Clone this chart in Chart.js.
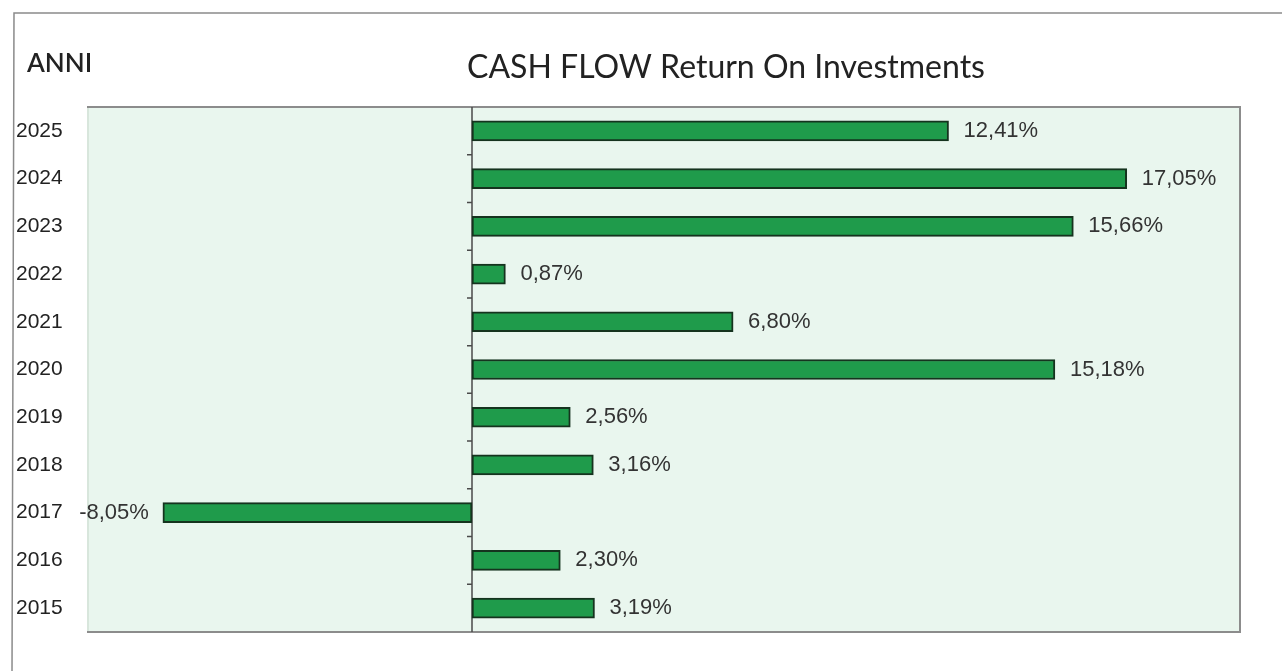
<!DOCTYPE html>
<html>
<head>
<meta charset="utf-8">
<script src="https://cdn.jsdelivr.net/npm/chart.js@4.4.1/dist/chart.umd.min.js"></script>
<style>
  html, body { margin: 0; padding: 0; background: #fff; }
  #wrap { width: 1286px; height: 671px; position: relative; }
</style>
</head>
<body>
<div id="wrap"><canvas id="roiChart"></canvas></div>
<script>
// data
const anni = ['2025', '2024', '2023', '2022', '2021', '2020', '2019', '2018', '2017', '2016', '2015'];
const roiValues = [12.41, 17.05, 15.66, 0.87, 6.80, 15.18, 2.56, 3.16, -8.05, 2.30, 3.19];
const chartTitle = 'CASH FLOW Return On Investments';
const axisTitle = 'ANNI';

const fmt = v => v.toFixed(2).replace('.', ',') + '%';

// frame, plot background, zero line, titles
const decorations = {
  id: 'decorations',
  beforeDraw(chart) {
    const { ctx, chartArea: a } = chart;
    ctx.save();
    // outer frame (top and left edge of the scanned box)
    ctx.strokeStyle = '#8a8a8a';
    ctx.lineWidth = 1.5;
    ctx.beginPath();
    ctx.moveTo(1282, 13);
    ctx.lineTo(14, 13);
    ctx.lineTo(12, 671);
    ctx.stroke();
    // plot area
    ctx.fillStyle = '#e9f6ee';
    ctx.fillRect(a.left, a.top, a.right - a.left, a.bottom - a.top);
    ctx.strokeStyle = '#8c8c8c';
    ctx.lineWidth = 2;
    ctx.strokeRect(a.left, a.top, a.right - a.left, a.bottom - a.top);
    ctx.strokeStyle = '#d8e6dc';
    ctx.beginPath();
    ctx.moveTo(a.left, a.top + 1);
    ctx.lineTo(a.left, a.bottom - 1);
    ctx.stroke();
    // titles
    ctx.fillStyle = '#222';
    ctx.textBaseline = 'alphabetic';
    ctx.font = '32px Lato, "Open Sans", sans-serif';
    ctx.textAlign = 'center';
    ctx.fillText(chartTitle, 726, 78);
    ctx.font = '600 26px Lato, "Open Sans", sans-serif';
    ctx.textAlign = 'left';
    ctx.fillText(axisTitle, 27, 72);
    ctx.restore();
  },
  beforeDatasetsDraw(chart) {
    const { ctx, chartArea: a, scales } = chart;
    const x0 = scales.x.getPixelForValue(0);
    ctx.save();
    ctx.strokeStyle = '#4a4a4a';
    ctx.lineWidth = 1.5;
    ctx.beginPath();
    ctx.moveTo(x0, a.top);
    ctx.lineTo(x0, a.bottom);
    // small tick marks between the categories
    const y = scales.y;
    for (let i = 1; i < anni.length; i++) {
      const ty = (y.getPixelForValue(i - 1) + y.getPixelForValue(i)) / 2;
      ctx.moveTo(x0 - 5, ty);
      ctx.lineTo(x0, ty);
    }
    ctx.stroke();
    ctx.restore();
  }
};

// value labels at the end of each bar
const valueLabels = {
  id: 'valueLabels',
  afterDatasetsDraw(chart) {
    const { ctx } = chart;
    const meta = chart.getDatasetMeta(0);
    ctx.save();
    ctx.font = '22px "Liberation Sans", Arial, sans-serif';
    ctx.fillStyle = '#333';
    ctx.textBaseline = 'middle';
    meta.data.forEach((bar, i) => {
      const v = roiValues[i];
      if (v >= 0) {
        ctx.textAlign = 'left';
        ctx.fillText(fmt(v), bar.x + 15, bar.y);
      } else {
        ctx.textAlign = 'right';
        ctx.fillText(fmt(v), bar.x - 14, bar.y);
      }
    });
    ctx.restore();
  }
};

new Chart(document.getElementById('roiChart'), {
  type: 'bar',
  data: {
    labels: anni,
    datasets: [{
      data: roiValues,
      backgroundColor: '#1f9b4b',
      borderColor: '#15331e',
      borderWidth: 2,
      borderSkipped: false,
      barThickness: 20
    }]
  },
  options: {
    indexAxis: 'y',
    responsive: true,
    maintainAspectRatio: false,
    animation: false,
    layout: { padding: { left: 16, right: 46, top: 107, bottom: 39 } },
    plugins: {
      legend: { display: false },
      tooltip: { enabled: false }
    },
    scales: {
      x: {
        display: false,
        min: -10,
        max: 20
      },
      y: {
        grid: { display: false },
        border: { display: false },
        ticks: {
          crossAlign: 'far',
          color: '#222',
          font: { family: '"Liberation Sans", Arial, sans-serif', size: 21 }
        },
        afterFit(scale) { scale.width = 72; }
      }
    }
  },
  plugins: [decorations, valueLabels]
});
</script>
</body>
</html>
